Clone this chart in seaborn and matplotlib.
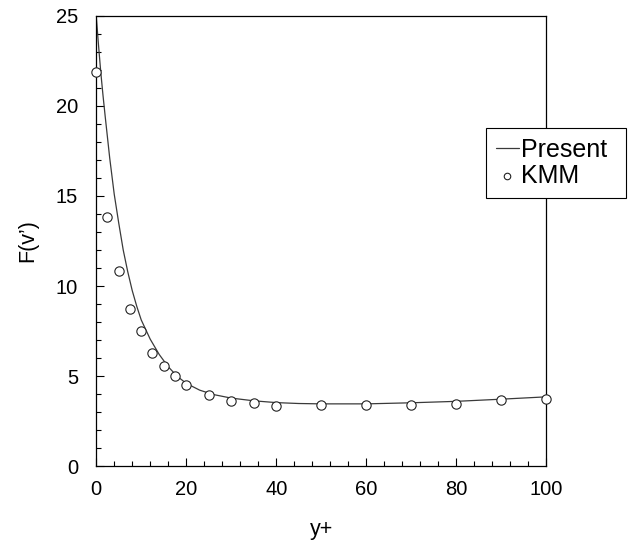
import numpy as np
import pandas as pd
import seaborn as sns
import matplotlib.pyplot as plt
from matplotlib.ticker import MultipleLocator

# Curva "Present"
present_x = [0, 0.5, 1, 1.5, 2, 3, 4, 5, 6, 7, 8, 9, 10, 12, 14, 16, 18, 20,
             23, 26, 30, 35, 40, 45, 50, 60, 70, 80, 90, 100]
present_y = [25, 23.4, 21.9, 20.6, 19.4, 17.1, 15.1, 13.5, 12.0, 10.8, 9.75, 8.88,
             8.12, 7.05, 6.2, 5.52, 4.99, 4.6, 4.22, 3.98, 3.78, 3.63, 3.53, 3.48,
             3.46, 3.46, 3.52, 3.6, 3.72, 3.85]

# Pontos KMM
kmm_x = [0, 2.5, 5, 7.5, 10, 12.5, 15, 17.5, 20, 25, 30, 35, 40, 50, 60, 70, 80, 90, 100]
kmm_y = [21.9, 13.85, 10.85, 8.72, 7.52, 6.3, 5.55, 4.98, 4.52, 3.94, 3.63, 3.5,
         3.35, 3.39, 3.37, 3.39, 3.43, 3.65, 3.74]

df_present = pd.DataFrame({"y+": present_x, "F": present_y})
df_kmm = pd.DataFrame({"y+": kmm_x, "F": kmm_y})

sns.set_style("white")
plt.rcParams['font.family'] = ['Liberation Sans', 'DejaVu Sans']
plt.rcParams['text.color'] = 'black'
plt.rcParams['axes.labelcolor'] = 'black'

fig = plt.figure(figsize=(6.33, 5.44), dpi=100)
ax = fig.add_axes([0.152, 0.143, 0.711, 0.828])

sns.lineplot(data=df_present, x="y+", y="F", ax=ax, color="#3a3a3a",
             linewidth=0.9, label="Present")
sns.scatterplot(data=df_kmm, x="y+", y="F", ax=ax, marker="o", s=45,
                facecolor="white", edgecolor="#222222", linewidth=0.8,
                label="KMM", zorder=3, clip_on=False)

ax.set_xlim(0, 100)
ax.set_ylim(0, 25)
ax.xaxis.set_major_locator(MultipleLocator(20))
ax.xaxis.set_minor_locator(MultipleLocator(4))
ax.yaxis.set_major_locator(MultipleLocator(5))
ax.yaxis.set_minor_locator(MultipleLocator(1))
ax.tick_params(which="both", direction="in", top=False, right=False,
               bottom=True, left=True, colors="black", labelcolor="black")
ax.tick_params(which="major", length=6, width=0.8, labelsize=14.5)
ax.tick_params(axis="y", which="major", pad=13)
ax.tick_params(axis="x", which="major", pad=10)
ax.tick_params(which="minor", length=3.5, width=0.8)

for sp in ax.spines.values():
    sp.set_visible(True)
    sp.set_color("black")
    sp.set_linewidth(0.9)

ax.set_xlabel("y+", fontsize=15.5, labelpad=14)
ax.set_ylabel("F(v’)", fontsize=15.5, labelpad=13)

leg = ax.legend(loc="lower left", bbox_to_anchor=(0.768, 0.636, 0.221, 0.15),
                bbox_transform=fig.transFigure, mode="expand", fontsize=18,
                frameon=True, fancybox=False, framealpha=1, handlelength=0.9,
                handletextpad=0.1, borderpad=0.4, labelspacing=0.1,
                borderaxespad=0, markerscale=0.7)
leg.get_frame().set_edgecolor("black")
leg.get_frame().set_linewidth(0.8)

fig.savefig("out.png", dpi=100)
